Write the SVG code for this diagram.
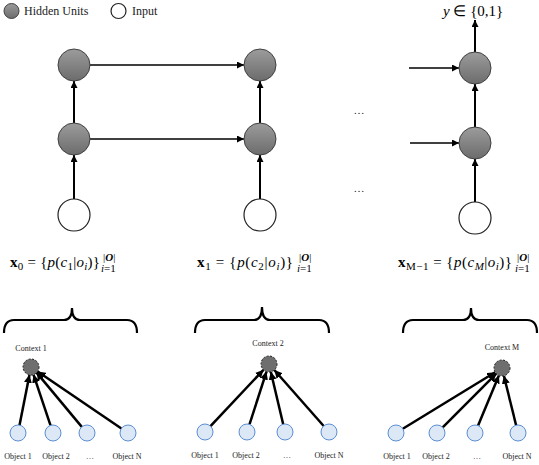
<svg xmlns="http://www.w3.org/2000/svg" width="539" height="465" viewBox="0 0 539 465">
<defs>
<linearGradient id="g" x1="0" y1="0" x2="0" y2="1">
<stop offset="0" stop-color="#9c9c9c"/>
<stop offset="1" stop-color="#6c6c6c"/>
</linearGradient>
<marker id="ah" viewBox="0 0 8 8" refX="8" refY="4" markerWidth="7" markerHeight="7" markerUnits="userSpaceOnUse" orient="auto">
<path d="M0,0 L8,4 L0,8 z" fill="#000"/>
</marker>
<marker id="ah2" viewBox="0 0 8 8" refX="8" refY="4" markerWidth="8" markerHeight="8" markerUnits="userSpaceOnUse" orient="auto">
<path d="M0,0 L8,4 L0,8 z" fill="#000"/>
</marker>
</defs>
<style>
.hid{fill:url(#g);stroke:#404040;stroke-width:1}
.inp{fill:#fff;stroke:#222;stroke-width:1.2}
.ctx{fill:#6e6e6e;stroke:#222;stroke-width:1;stroke-dasharray:2,1.5}
.obj{fill:#dde8f6;stroke:#5b8ed2;stroke-width:1}
.e{stroke:#000;stroke-width:2;fill:none;marker-end:url(#ah)}
.eh{stroke:#000;stroke-width:1.6;fill:none;marker-end:url(#ah)}
.eo{stroke:#000;stroke-width:2.5;fill:none;marker-end:url(#ah2)}
.br{stroke:#000;stroke-width:2.2;fill:none}
.t{font-family:"Liberation Serif",serif;fill:#222}
.lg{font-size:12px}
.sm{font-size:8px;text-anchor:middle}
.m{font-family:"Liberation Serif",serif;font-size:15px;fill:#000}
.s{font-size:11px}
</style>

<g id="legend">
<circle class="hid" cx="11.5" cy="11" r="7.5"/>
<text class="t lg" x="24" y="15">Hidden Units</text>
<circle class="inp" cx="118.5" cy="11" r="7.5"/>
<text class="t lg" x="132" y="15">Input</text>
</g>

<g id="connectors">
<line class="e" x1="74" y1="199" x2="74" y2="155"/>
<line class="e" x1="74" y1="123" x2="74" y2="81"/>
<line class="e" x1="260" y1="199" x2="260" y2="155"/>
<line class="e" x1="260" y1="123" x2="260" y2="81"/>
<line class="eh" x1="90" y1="65" x2="244" y2="65"/>
<line class="eh" x1="90" y1="139" x2="244" y2="139"/>
<line class="e" x1="475" y1="202" x2="475" y2="159"/>
<line class="e" x1="475" y1="127" x2="475" y2="84"/>
<line class="e" x1="475" y1="52" x2="475" y2="20"/>
<line class="eh" x1="409" y1="68" x2="459" y2="68"/>
<line class="eh" x1="410" y1="143" x2="459" y2="143"/>

<line class="eo" x1="19.5" y1="425.2" x2="29.5" y2="374.8"/>
<line class="eo" x1="50.5" y1="425.4" x2="33.5" y2="374.6"/>
<line class="eo" x1="81.8" y1="426.9" x2="36.2" y2="372.1"/>
<line class="eo" x1="121.4" y1="428.5" x2="37.6" y2="371.5"/>

<line class="eo" x1="210.5" y1="426.2" x2="263.5" y2="369.8"/>
<line class="eo" x1="249.5" y1="424.4" x2="266.5" y2="371.6"/>
<line class="eo" x1="283.2" y1="424.2" x2="270.8" y2="371.8"/>
<line class="eo" x1="323.7" y1="426" x2="274.3" y2="370"/>

<line class="eo" x1="402.8" y1="428.8" x2="495.2" y2="372.2"/>
<line class="eo" x1="442.7" y1="427.3" x2="496.3" y2="373.7"/>
<line class="eo" x1="478.1" y1="425.6" x2="498.9" y2="375.4"/>
<line class="eo" x1="516.1" y1="425.2" x2="503.9" y2="375.8"/>
</g>

<g id="h1top"><circle class="hid" cx="74" cy="65" r="16"/></g>
<g id="h1mid"><circle class="hid" cx="74" cy="139" r="16"/></g>
<g id="in1"><circle class="inp" cx="74" cy="215" r="16"/></g>
<g id="h2top"><circle class="hid" cx="260" cy="65" r="16"/></g>
<g id="h2mid"><circle class="hid" cx="260" cy="139" r="16"/></g>
<g id="in2"><circle class="inp" cx="260" cy="215" r="16"/></g>
<g id="h3top"><circle class="hid" cx="475" cy="68" r="16"/></g>
<g id="h3mid"><circle class="hid" cx="475" cy="143" r="16"/></g>
<g id="in3"><circle class="inp" cx="475" cy="218" r="16"/></g>

<g id="output-label">
<text class="m" x="443" y="16" font-size="14"><tspan font-style="italic">y</tspan> ∈ {0,1}</text>
</g>
<g id="ellipses">
<text class="t" x="359" y="114" font-size="11" text-anchor="middle">…</text>
<text class="t" x="359" y="192" font-size="11" text-anchor="middle">…</text>
</g>

<g id="formula1">
<text class="m" x="10" y="267" textLength="90" lengthAdjust="spacing"><tspan font-weight="bold">x</tspan><tspan class="s" dy="3">0</tspan><tspan dy="-3"> = {</tspan><tspan font-style="italic">p</tspan>(<tspan font-style="italic">c</tspan><tspan class="s" dy="3">1</tspan><tspan dy="-3">|</tspan><tspan font-style="italic">o</tspan><tspan class="s" dy="3" font-style="italic">i</tspan><tspan dy="-3">)}</tspan></text>
<text class="m s" x="103" y="261">|<tspan font-weight="bold" font-style="italic">O</tspan>|</text>
<text class="m s" x="101" y="272"><tspan font-style="italic">i</tspan>=1</text>
</g>
<g id="formula2">
<text class="m" x="197" y="267" textLength="96" lengthAdjust="spacing"><tspan font-weight="bold">x</tspan><tspan class="s" dy="3">1</tspan><tspan dy="-3"> = {</tspan><tspan font-style="italic">p</tspan>(<tspan font-style="italic">c</tspan><tspan class="s" dy="3">2</tspan><tspan dy="-3">|</tspan><tspan font-style="italic">o</tspan><tspan class="s" dy="3" font-style="italic">i</tspan><tspan dy="-3">)}</tspan></text>
<text class="m s" x="299" y="261">|<tspan font-weight="bold" font-style="italic">O</tspan>|</text>
<text class="m s" x="297" y="272"><tspan font-style="italic">i</tspan>=1</text>
</g>
<g id="formula3">
<text class="m" x="398" y="267" textLength="114" lengthAdjust="spacing"><tspan font-weight="bold">x</tspan><tspan class="s" dy="3">M−1</tspan><tspan dy="-3"> = {</tspan><tspan font-style="italic">p</tspan>(<tspan font-style="italic">c</tspan><tspan class="s" dy="3" font-style="italic">M</tspan><tspan dy="-3">|</tspan><tspan font-style="italic">o</tspan><tspan class="s" dy="3" font-style="italic">i</tspan><tspan dy="-3">)}</tspan></text>
<text class="m s" x="517" y="261">|<tspan font-weight="bold" font-style="italic">O</tspan>|</text>
<text class="m s" x="515" y="272"><tspan font-style="italic">i</tspan>=1</text>
</g>

<g id="braces">
<path class="br" d="M4,333 Q4,320 14,320 L64,320 Q72,320 72,308 Q72,320 80,320 L127,320 Q137,320 137,333"/>
<path class="br" d="M195,333 Q195,320 205,320 L254,320 Q262,320 262,307 Q262,320 270,320 L319,320 Q329,320 329,333"/>
<path class="br" d="M403,333 Q403,320 413,320 L463,320 Q471,320 471,308 Q471,320 479,320 L527,320 Q537,320 537,333"/>
</g>

<g id="context1">
<text class="t sm" x="31" y="351">Context 1</text>
<circle class="ctx" cx="31" cy="367" r="8"/>
</g>
<g id="context2">
<text class="t sm" x="268" y="346">Context 2</text>
<circle class="ctx" cx="269" cy="364" r="8"/>
</g>
<g id="contextM">
<text class="t sm" x="502" y="350">Context M</text>
<circle class="ctx" cx="502" cy="368" r="8"/>
</g>

<g id="objects1">
<circle class="obj" cx="18" cy="433" r="8"/>
<circle class="obj" cx="53" cy="433" r="8"/>
<circle class="obj" cx="87" cy="433" r="8"/>
<circle class="obj" cx="128" cy="433" r="8"/>
<text class="t sm" x="18" y="459">Object 1</text>
<text class="t sm" x="56" y="459">Object 2</text>
<text class="t sm" x="90" y="459">…</text>
<text class="t sm" x="127" y="459">Object N</text>
</g>
<g id="objects2">
<circle class="obj" cx="205" cy="432" r="8"/>
<circle class="obj" cx="247" cy="432" r="8"/>
<circle class="obj" cx="285" cy="432" r="8"/>
<circle class="obj" cx="329" cy="432" r="8"/>
<text class="t sm" x="205" y="458">Object 1</text>
<text class="t sm" x="246" y="458">Object 2</text>
<text class="t sm" x="287" y="458">…</text>
<text class="t sm" x="329" y="458">Object N</text>
</g>
<g id="objectsM">
<circle class="obj" cx="396" cy="433" r="8"/>
<circle class="obj" cx="437" cy="433" r="8"/>
<circle class="obj" cx="475" cy="433" r="8"/>
<circle class="obj" cx="518" cy="433" r="8"/>
<text class="t sm" x="397" y="459">Object 1</text>
<text class="t sm" x="436" y="459">Object 2</text>
<text class="t sm" x="477" y="459">…</text>
<text class="t sm" x="517" y="459">Object N</text>
</g>
</svg>
